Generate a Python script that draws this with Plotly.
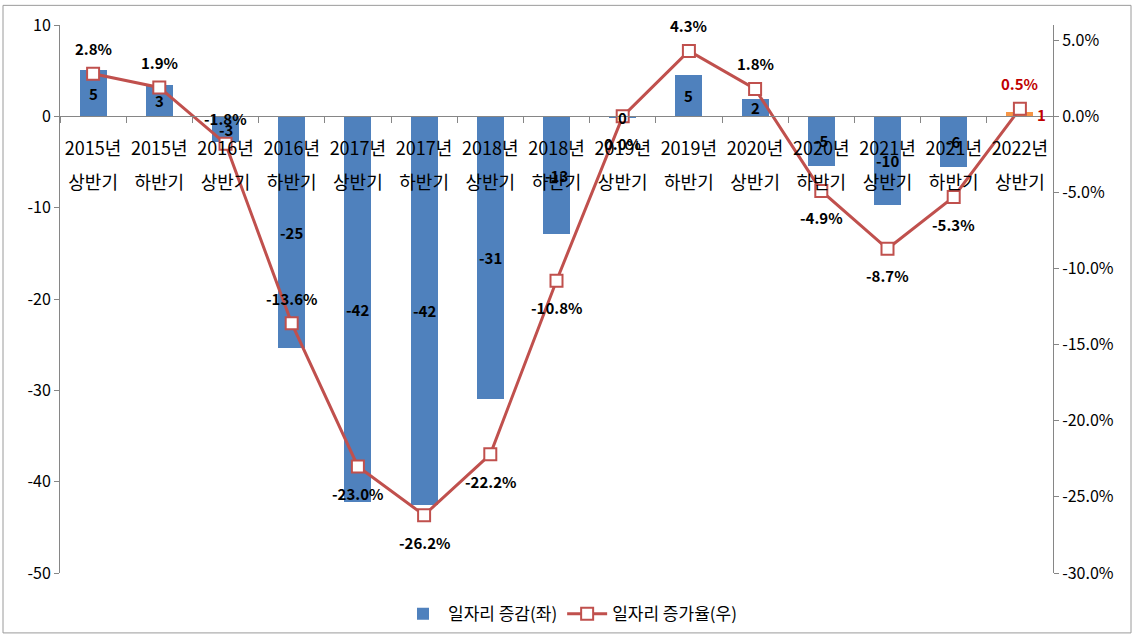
import plotly.graph_objects as go

# ---------------- data ----------------
cat_year = ["2015년", "2015년", "2016년", "2016년", "2017년", "2017년", "2018년", "2018년",
            "2019년", "2019년", "2020년", "2020년", "2021년", "2021년", "2022년"]
cat_half = ["상반기", "하반기", "상반기", "하반기", "상반기", "하반기", "상반기", "하반기",
            "상반기", "하반기", "상반기", "하반기", "상반기", "하반기", "상반기"]
categories = [f"{y} {h}" for y, h in zip(cat_year, cat_half)]

job_change = [5.1, 3.4, -2.8, -25.4, -42.2, -42.5, -30.9, -12.9, -0.2, 4.5, 1.9, -5.4, -9.7, -5.6, 0.5]
job_change_labels = ["5", "3", "-3", "-25", "-42", "-42", "-31", "-13", "0", "5", "2", "-5", "-10", "-6", "1"]

job_rate = [2.8, 1.9, -1.8, -13.6, -23.0, -26.2, -22.2, -10.8, 0.0, 4.3, 1.8, -4.9, -8.7, -5.3, 0.5]
rate_label_pos = ["top", "top", "top", "top", "bottom", "bottom", "bottom", "bottom", "bottom",
                  "top", "top", "bottom", "bottom", "bottom", "top"]

left_ticks = [10, 0, -10, -20, -30, -40, -50]
right_ticks = [5, 0, -5, -10, -15, -20, -25, -30]

# ---------------- style ----------------
FONT = "Noto Sans CJK KR, Malgun Gothic, sans-serif"
BLUE = "#4F81BD"
ORANGE = "#F79646"
RED = "#C0504D"
DARKRED = "#C00000"
AXIS = "#868686"

n = len(categories)
bar_colors = [BLUE] * (n - 1) + [ORANGE]

L, R, T, B = 60, 81, 22, 64
W, H = 1134, 644
pw, ph = W - L - R, H - T - B
zero_pos = 50 / 60  # position of y=0 on left axis in domain fraction

fig = go.Figure()

fig.add_trace(go.Bar(
    x=categories, y=job_change, name="일자리 증감(좌)",
    marker=dict(color=bar_colors, line=dict(width=0)),
    width=0.41, yaxis="y", xaxis="x",
))

fig.add_trace(go.Scatter(
    x=categories, y=job_rate, name="일자리 증가율(우)", yaxis="y2", xaxis="x",
    mode="lines+markers",
    line=dict(color=RED, width=3),
    marker=dict(symbol="square", size=12, color="white", line=dict(color=RED, width=2)),
))

# invisible helper trace so the second-line category axis is drawn
fig.add_trace(go.Scatter(
    x=list(range(n)), y=[0] * n, xaxis="x2", yaxis="y", mode="markers",
    marker=dict(opacity=0), showlegend=False, hoverinfo="skip",
))

annotations = []
# bar value labels (centre of each bar)
for i, (c, v, t) in enumerate(zip(categories, job_change, job_change_labels)):
    last = i == n - 1
    annotations.append(dict(
        x=c, y=v / 2, xref="x", yref="y", text=f"<b>{t}</b>", showarrow=False,
        font=dict(family=FONT, size=15, color=DARKRED if last else "black"),
        xshift=22 if last else 0,
    ))
# line value labels
for i, (c, v, p) in enumerate(zip(categories, job_rate, rate_label_pos)):
    last = i == n - 1
    annotations.append(dict(
        x=c, y=v, xref="x", yref="y2", text=f"<b>{v:.1f}%</b>", showarrow=False,
        font=dict(family=FONT, size=15, color=DARKRED if last else "black"),
        yshift=25 if p == "top" else -27,
    ))

fig.update_layout(
    width=W, height=H,
    margin=dict(l=L, r=R, t=T, b=B),
    paper_bgcolor="white", plot_bgcolor="white",
    font=dict(family=FONT, size=16, color="black"),
    bargap=0,
    xaxis=dict(
        type="category", categoryarray=categories, range=[-0.5, n - 0.5],
        anchor="free", position=zero_pos,
        showline=True, linecolor=AXIS, linewidth=1,
        ticks="outside", tickson="boundaries", ticklen=6, tickcolor=AXIS,
        tickvals=categories, ticktext=cat_year, ticklabelstandoff=16,
        tickfont=dict(family=FONT, size=18, color="black"),
        showgrid=False, zeroline=False,
    ),
    xaxis2=dict(
        overlaying="x", anchor="free", position=zero_pos - 55 / ph,
        range=[-0.5, n - 0.5], tickvals=list(range(n)), ticktext=cat_half,
        showline=False, ticks="", showgrid=False, zeroline=False,
        tickfont=dict(family=FONT, size=18, color="black"),
    ),
    yaxis=dict(
        range=[-50, 10], tickvals=left_ticks, ticktext=[str(t) for t in left_ticks],
        showline=True, linecolor=AXIS, ticks="outside", ticklen=5, tickcolor=AXIS,
        showgrid=False, zeroline=False,
        tickfont=dict(family=FONT, size=16, color="black"),
    ),
    yaxis2=dict(
        range=[-30, 6], overlaying="y", side="right",
        tickvals=right_ticks, ticktext=[f"{t:.1f}%" for t in right_ticks],
        showline=True, linecolor=AXIS, ticks="outside", ticklen=5, tickcolor=AXIS,
        showgrid=False, zeroline=False,
        tickfont=dict(family=FONT, size=16, color="black"),
    ),
    legend=dict(
        orientation="h", x=(570 - L) / pw, xanchor="center",
        y=(580 - 622) / ph, yanchor="middle",
        font=dict(family=FONT, size=17, color="black"),
        bgcolor="rgba(0,0,0,0)", itemwidth=40,
    ),
    annotations=annotations,
    shapes=[dict(
        type="rect", xref="paper", yref="paper",
        x0=(3 - L) / pw, x1=(1131 - L) / pw,
        y0=(580 - 641) / ph, y1=(580 - 2) / ph,
        line=dict(color="#9a9a9a", width=1), fillcolor="rgba(0,0,0,0)", layer="below",
    )],
)

fig.write_html("out.html")
